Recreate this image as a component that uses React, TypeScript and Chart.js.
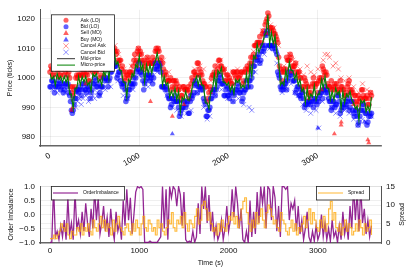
import React, { useEffect, useRef } from "react";
import { Chart, registerables } from "chart.js";

Chart.register(...registerables);

const FONT = "'Liberation Sans', Arial, Helvetica, sans-serif";

// ---------- data ----------
const STEP_S = 20; // seconds between samples of the sampled series
const HALF_STEP_S = 10; // offset of the second order book level samples

const xTickValues = [0, 1000, 2000, 3000];
const priceTickValues = [980, 990, 1000, 1010, 1020];
const imbalanceTickValues = [-1, -0.5, 0, 0.5, 1];
const imbalanceTickLabels = ["−1.0", "−0.5", "0.0", "0.5", "1.0"];
const spreadTickValues = [0, 5, 10, 15];

const topLegendLabels = ["Ask (LO)", "Bid (LO)", "Sell (MO)", "Buy (MO)", "Cancel Ask", "Cancel Bid", "Mid-price", "Micro-price"];

const askLO = [
  1002, 1003, 1001, 1005, 1002, 1003, 1001, 1004, 1001, 1004,
  1001, 1000, 995, 994, 997, 1001, 1001, 1001, 1001, 1002,
  1001, 1001, 999, 1003, 1002, 1004, 1002, 1004, 1000, 1003,
  1003, 1006, 1005, 1004, 1006, 1010, 1010, 1008, 1006, 1006,
  1003, 1002, 999, 1001, 1000, 1002, 1002, 1006, 1005, 1009,
  1008, 1008, 1005, 1003, 1005, 1006, 1005, 1005, 1005, 1009,
  1009, 1009, 1005, 1005, 1001, 1001, 999, 999, 996, 999,
  997, 998, 996, 993, 994, 997, 996, 996, 993, 998,
  999, 1002, 1001, 1005, 1001, 1001, 998, 997, 992, 995,
  996, 1001, 1002, 1001, 1003, 1006, 1004, 1002, 999, 1001,
  999, 999, 998, 1002, 1000, 1002, 1000, 1002, 998, 1002,
  1002, 1003, 1005, 1005, 1008, 1011, 1012, 1012, 1011, 1015,
  1015, 1019, 1022, 1017, 1016, 1016, 1015, 1013, 1007, 1003,
  999, 1003, 1003, 1006, 1006, 1007, 1003, 1004, 1002, 1002,
  1000, 997, 997, 999, 997, 995, 995, 998, 998, 998,
  995, 1000, 1000, 1003, 1001, 1001, 997, 997, 996, 997,
  997, 996, 996, 997, 996, 994, 995, 998, 996, 996,
  992, 994, 991, 992, 993, 996, 993, 993, 991, 993, 994,
];

// second ask level, sampled half a step later
const askLO2 = [
  1004, 1001, 1005, 1004, 1004, 1001, 1003, 1005, 1002, 1004,
  1002, 997, 997, 996, 1000, 1000, 1001, 1003, 1001, 1003,
  1002, 999, 1003, 1003, 1004, 1002, 1003, 1004, 1001, 1004,
  1006, 1005, 1007, 1005, 1009, 1009, 1009, 1009, 1005, 1006,
  1004, 1000, 1002, 1001, 1002, 1001, 1004, 1008, 1006, 1010,
  1009, 1006, 1006, 1004, 1007, 1005, 1005, 1007, 1006, 1010,
  1010, 1006, 1007, 1003, 1002, 999, 999, 1000, 997, 999,
  999, 996, 997, 994, 997, 996, 996, 997, 995, 1000,
  1002, 1001, 1005, 1003, 1002, 999, 998, 997, 993, 997,
  1000, 1001, 1004, 1002, 1006, 1004, 1003, 1003, 999, 1001,
  1000, 998, 1002, 1001, 1002, 1000, 1001, 1002, 999, 1003,
  1004, 1003, 1007, 1007, 1011, 1011, 1012, 1014, 1012, 1016,
  1018, 1020, 1021, 1017, 1017, 1015, 1014, 1012, 1004, 1002,
  1002, 1002, 1007, 1006, 1008, 1004, 1004, 1005, 1001, 1002,
  1000, 996, 1000, 998, 997, 994, 997, 1000, 997, 998,
  999, 999, 1004, 1002, 1002, 998, 997, 999, 996, 998,
  998, 995, 999, 997, 996, 994, 997, 999, 995, 995,
  994, 992, 994, 993, 996, 994, 993, 994, 991, 995,
];

const bidLO = [
  997, 999, 998, 997, 998, 999, 996, 998, 996, 998,
  998, 994, 989, 989, 993, 996, 995, 997, 996, 998,
  996, 997, 996, 995, 998, 1000, 997, 998, 995, 997,
  1000, 1000, 999, 999, 1002, 1005, 1004, 1004, 1001, 1002,
  998, 998, 996, 993, 996, 998, 997, 1000, 1000, 1003,
  1005, 1002, 999, 998, 1001, 1001, 999, 1001, 1000, 1005,
  1004, 1005, 1002, 997, 997, 997, 994, 993, 991, 993,
  994, 992, 990, 988, 990, 992, 990, 992, 988, 994,
  994, 998, 998, 997, 997, 997, 993, 991, 987, 989,
  993, 995, 996, 996, 999, 1001, 998, 998, 994, 997,
  994, 995, 995, 994, 996, 998, 995, 996, 993, 996,
  999, 997, 999, 1000, 1004, 1006, 1006, 1008, 1006, 1011,
  1010, 1015, 1015, 1011, 1011, 1011, 1010, 1008, 1001, 997,
  997, 997, 998, 999, 1002, 1002, 999, 999, 996, 997,
  994, 995, 993, 991, 992, 992, 991, 993, 992, 992,
  993, 994, 995, 996, 997, 996, 993, 992, 990, 992,
  991, 994, 992, 989, 991, 991, 991, 993, 990, 992,
  988, 989, 987, 985, 989, 991, 989, 988, 985, 988, 988,
];

// second bid level, sampled half a step later
const bidLO2 = [
  997, 999, 995, 997, 997, 998, 997, 995, 998, 997,
  995, 992, 988, 991, 993, 996, 996, 994, 998, 996,
  995, 997, 993, 996, 998, 999, 997, 994, 997, 997,
  999, 1000, 997, 1000, 1002, 1005, 1004, 1000, 1002, 999,
  997, 998, 992, 994, 996, 998, 998, 998, 1002, 1003,
  1002, 1001, 996, 999, 1000, 1001, 1000, 998, 1003, 1003,
  1003, 1004, 997, 997, 996, 996, 993, 990, 993, 992,
  992, 992, 987, 989, 990, 992, 991, 988, 992, 993,
  995, 999, 995, 997, 996, 996, 992, 987, 989, 990,
  993, 996, 994, 997, 999, 1000, 998, 994, 996, 994,
  993, 996, 992, 995, 996, 997, 995, 992, 995, 996,
  997, 999, 997, 1002, 1004, 1007, 1007, 1005, 1009, 1009,
  1011, 1016, 1011, 1011, 1010, 1011, 1009, 1002, 1000, 996,
  996, 998, 996, 1000, 1001, 1001, 999, 995, 997, 994,
  993, 995, 990, 991, 991, 992, 992, 990, 993, 991,
  992, 995, 993, 996, 995, 995, 992, 989, 992, 990,
  991, 994, 988, 990, 990, 992, 992, 989, 992, 989,
  987, 989, 984, 987, 989, 991, 988, 984, 987, 987,
];

const midPrice = [
  1000, 1000, 1000, 1001, 1000, 1000, 999, 1000, 1000, 1001,
  999, 996, 992, 993, 995, 997, 998, 999, 1000, 999,
  999, 998, 998, 999, 1000, 1001, 1000, 1000, 999, 1000,
  1001, 1002, 1002, 1003, 1004, 1006, 1007, 1006, 1005, 1003,
  1001, 999, 998, 997, 998, 999, 1000, 1002, 1004, 1006,
  1006, 1004, 1002, 1002, 1003, 1002, 1002, 1003, 1004, 1006,
  1007, 1006, 1004, 1001, 999, 998, 997, 995, 995, 996,
  995, 994, 993, 992, 992, 993, 993, 994, 992, 995,
  997, 999, 1000, 1001, 999, 998, 996, 993, 991, 992,
  994, 997, 999, 1000, 1001, 1002, 1001, 1000, 998, 998,
  997, 996, 997, 998, 998, 999, 998, 998, 997, 999,
  1000, 999, 1002, 1004, 1006, 1007, 1009, 1010, 1010, 1012,
  1013, 1016, 1017, 1015, 1013, 1012, 1013, 1010, 1005, 1000,
  998, 999, 1001, 1003, 1004, 1003, 1002, 1001, 1000, 998,
  997, 996, 995, 995, 994, 993, 994, 995, 996, 995,
  994, 996, 998, 1000, 999, 997, 996, 994, 994, 993,
  994, 995, 994, 993, 993, 992, 994, 995, 994, 993,
  991, 990, 989, 989, 991, 992, 992, 990, 989, 989, 991,
];

const microPrice = [
  1001.5, 999.5, 1000.5, 997.5, 1001.5, 999.5, 1000.5, 998.5, 1000.5, 998.5,
  1000.5, 994.5, 994.5, 989.5, 996.5, 996.5, 1000.5, 997.5, 1000.5, 998.5,
  1000.5, 997.5, 998.5, 995.5, 1001.5, 1000.5, 1001.5, 998.5, 999.5, 997.5,
  1002.5, 1000.5, 1004.5, 999.5, 1005.5, 1005.5, 1009.5, 1004.5, 1005.5, 1002.5,
  1002.5, 998.5, 998.5, 993.5, 999.5, 998.5, 1001.5, 1000.5, 1004.5, 1003.5,
  1007.5, 1002.5, 1004.5, 998.5, 1004.5, 1001.5, 1004.5, 1001.5, 1004.5, 1005.5,
  1008.5, 1005.5, 1004.5, 997.5, 1000.5, 997.5, 998.5, 993.5, 995.5, 993.5,
  996.5, 992.5, 995.5, 988.5, 993.5, 992.5, 995.5, 992.5, 992.5, 994.5,
  998.5, 998.5, 1000.5, 997.5, 1000.5, 997.5, 997.5, 991.5, 991.5, 989.5,
  995.5, 995.5, 1001.5, 996.5, 1002.5, 1001.5, 1003.5, 998.5, 998.5, 997.5,
  998.5, 995.5, 997.5, 994.5, 999.5, 998.5, 999.5, 996.5, 997.5, 996.5,
  1001.5, 997.5, 1004.5, 1000.5, 1007.5, 1006.5, 1011.5, 1008.5, 1010.5, 1011.5,
  1014.5, 1015.5, 1021.5, 1011.5, 1015.5, 1011.5, 1014.5, 1008.5, 1006.5, 997.5,
  998.5, 997.5, 1002.5, 999.5, 1005.5, 1002.5, 1002.5, 999.5, 1001.5, 997.5,
  999.5, 995.5, 996.5, 991.5, 996.5, 992.5, 994.5, 993.5, 997.5, 992.5,
  994.5, 994.5, 999.5, 996.5, 1000.5, 996.5, 996.5, 992.5, 995.5, 992.5,
  996.5, 994.5, 995.5, 989.5, 995.5, 991.5, 994.5, 993.5, 995.5, 992.5,
  991.5, 989.5, 990.5, 985.5, 992.5, 991.5, 992.5, 988.5, 990.5, 988.5, 993.5,
];

// [time (s), price (ticks)]
const sellMO: [number, number][] = [
  [100, 1000], [240, 989], [255, 990], [400, 998], [600, 1001], [980, 1004], [1000, 1006],
  [1125, 992], [1370, 987], [1500, 991], [1700, 998], [1800, 995], [2300, 1007], [2430, 1015],
  [2520, 1012], [2700, 1002], [2900, 993], [3040, 996], [3100, 997], [3185, 981], [3260, 984],
  [3262, 985], [3400, 991], [3560, 979], [3570, 978],
];

const buyMO: [number, number][] = [
  [50, 999], [300, 995], [700, 1004], [850, 996], [1230, 1004], [1370, 981], [1450, 992],
  [1620, 997], [1980, 997], [2000, 996], [2250, 1001], [2420, 1014], [2600, 998], [2640, 999],
  [2800, 996], [3000, 983], [3150, 993], [3330, 990], [3450, 988], [3520, 985],
];

const cancelAsk: [number, number][] = [
  [10, 1003], [60, 1004], [110, 1005], [160, 1003], [200, 1004], [330, 1003], [380, 1004],
  [450, 1002], [520, 1005], [580, 1004], [640, 1007], [700, 1009], [730, 1011], [770, 1008],
  [830, 1003], [910, 1004], [950, 1007], [990, 1010], [1030, 1008], [1090, 1007], [1150, 1006],
  [1190, 1009], [1210, 1010], [1270, 1006], [1330, 1002], [1400, 999], [1480, 996], [1560, 997],
  [1620, 1003], [1680, 1004], [1720, 1003], [1800, 999], [1880, 1005], [1910, 1006], [1960, 1003],
  [2050, 1002], [2100, 1003], [2150, 1002], [2230, 1004], [2280, 1009], [2330, 1012], [2380, 1016],
  [2440, 1020], [2470, 1018], [2510, 1017], [2560, 1011], [2620, 1004], [2680, 1008], [2720, 1006],
  [2760, 1005], [2800, 1003], [2840, 1001], [2880, 1004], [2920, 1002], [2960, 1001], [3000, 1003],
  [3060, 1006], [3080, 1008], [3110, 1008], [3130, 1007], [3170, 1004], [3200, 1005], [3230, 1003],
  [3260, 1000], [3300, 999], [3350, 1000], [3400, 997], [3460, 995], [3500, 998], [3550, 996],
  [3590, 995],
];

const cancelBid: [number, number][] = [
  [30, 996], [80, 995], [130, 997], [170, 995], [270, 991], [290, 990], [310, 992], [330, 993],
  [350, 991], [370, 993], [400, 994], [430, 992], [460, 993], [480, 994], [500, 993], [530, 995],
  [560, 994], [620, 996], [680, 997], [760, 999], [820, 994], [870, 993], [930, 996], [1000, 1001],
  [1060, 998], [1100, 997], [1140, 999], [1200, 1002], [1260, 997], [1310, 994], [1370, 990],
  [1420, 989], [1470, 987], [1530, 988], [1580, 989], [1650, 995], [1720, 990], [1760, 986],
  [1790, 987], [1850, 994], [1920, 996], [1990, 993], [2050, 992], [2110, 993], [2170, 991],
  [2230, 990], [2260, 989], [2300, 1002], [2350, 1005], [2400, 1008], [2460, 1010], [2540, 1005],
  [2600, 995], [2650, 996], [2700, 998], [2740, 995], [2780, 994], [2830, 991], [2870, 989],
  [2920, 988], [2980, 989], [3010, 983], [3050, 992], [3100, 993], [3150, 990], [3200, 988],
  [3250, 987], [3300, 989], [3350, 988], [3400, 986], [3450, 984], [3500, 986], [3540, 985],
  [3600, 987],
];

const orderImbalance = [
  -1, -1, 1, -0.8, -0.6, -0.9, -0.4, -0.8, -0.2, -0.9,
  0.6, -0.7, -0.3, -0.9, 0.8, -0.5, -0.2, -0.7, 0.1, -0.6,
  0.4, -0.3, -0.8, 0.2, -0.5, 0.9, -0.2, 0.6, -0.7, -0.3,
  0.3, -0.6, -0.1, -0.8, 0.2, -0.5, -0.9, 0.1, -0.6, -0.3,
  -0.9, 0.5, -0.4, 0.9, -0.2, 0.6, -0.7, 0, 0.8, 1,
  0.95, 1, 0.9, -1, -1, -1, -0.95, -1, -1, -1,
  -1, -0.9, -0.8, 1, -0.5, 0.9, -0.9, 1, 0.6, 1,
  0.9, 0.3, 1, 0.7, -0.4, 0.8, -0.9, -1, -0.95, -1,
  -0.6, -1, -0.8, 0.4, -0.7, 1, 0.2, 1, -0.3, 0.7,
  -0.6, 0.1, -0.8, -0.4, -0.9, -0.7, -0.2, -0.9, -0.5, 0.3,
  -0.6, -0.2, 0.9, -0.1, 1, 0.4, -0.5, 0.2, -0.9, -1,
  -0.6, -1, 0.5, -0.8, 0.1, -0.7, 0.8, -0.3, 1, 0.4,
  1, -0.5, 1, 0.9, -0.2, 1, 0.6, -0.6, 0.3, -0.8,
  1, 1, 0.9, 1, -0.2, 0.4, 0.2, 0.5, -0.6, 0.3,
  -0.7, -0.2, -0.9, -0.5, 0.1, -0.8, -1, -0.6, -0.95, -0.4,
  -0.9, -0.7, 0, -0.8, -0.3, -0.9, -0.5, -0.95, -0.2, -0.8,
  -0.6, -1, -0.4, -0.9, 0.1, -0.7, -0.3, -0.9, 0.3, -0.5,
  1, -0.2, 0.8, -0.6, 1, -0.3, 0.2, -0.7, -0.2, -0.8, -0.4,
];

const spread = [
  1, 1, 2, 1, 2, 3, 5, 4, 3, 5, 2,
  1, 3, 2, 2, 4, 3, 5, 2, 4, 3,
  5, 3, 2, 6, 4, 3, 5, 7, 4, 6,
  3, 5, 4, 2, 6, 3, 5, 7, 4, 3,
  2, 4, 5, 3, 2, 5, 3, 6, 4, 2,
  5, 7, 4, 3, 6, 5, 3, 4, 2, 6,
  4, 5, 3, 2, 4, 6, 5, 8, 4, 3,
  6, 5, 7, 4, 8, 5, 3, 6, 5, 4,
  7, 9, 5, 6, 10, 11, 9, 6, 8, 5,
  3, 4, 2, 5, 3, 6, 4, 3, 5, 7,
  6, 8, 5, 7, 4, 6, 9, 11, 12, 8,
  5, 3, 6, 4, 8, 5, 7, 9, 6, 4,
  8, 10, 9, 7, 5, 6, 4, 3, 8, 6,
  5, 3, 2, 4, 6, 3, 5, 2, 4, 3,
  5, 7, 4, 6, 9, 5, 8, 6, 4, 3,
  6, 4, 7, 3, 5, 9, 11, 6, 8, 4,
  3, 5, 2, 4, 6, 3, 5, 4, 2, 3,
  5, 3, 6, 4, 2, 5, 3, 4, 6, 2,
];

// ---------- styles ----------
const RED_FILL = "rgba(255,0,0,0.62)";
const BLUE_FILL = "rgba(0,0,255,0.62)";
const RED_X = "rgba(255,0,0,0.55)";
const BLUE_X = "rgba(0,0,255,0.55)";
const GREEN = "rgb(0,128,0)";
const PURPLE = "rgba(128,0,128,0.85)";
const ORANGE = "rgba(255,165,0,0.75)";
const GRID = "rgba(0,0,0,0.09)";

const sampled = (arr: number[], offset = 0) => arr.map((y, i) => ({ x: offset + i * STEP_S, y }));
const pairs = (arr: [number, number][]) => arr.map(([x, y]) => ({ x, y }));

const X_MIN = -112;
const X_MAX = 3707;

function drawMarker(ctx: CanvasRenderingContext2D, kind: string, x: number, y: number, color: string) {
  ctx.save();
  if (kind === "circle") {
    ctx.fillStyle = color;
    ctx.beginPath();
    ctx.arc(x, y, 2.5, 0, Math.PI * 2);
    ctx.fill();
  } else if (kind === "triangle") {
    ctx.fillStyle = color;
    ctx.beginPath();
    ctx.moveTo(x, y - 3);
    ctx.lineTo(x + 2.8, y + 2);
    ctx.lineTo(x - 2.8, y + 2);
    ctx.closePath();
    ctx.fill();
  } else if (kind === "x") {
    ctx.strokeStyle = color;
    ctx.lineWidth = 0.8;
    ctx.beginPath();
    ctx.moveTo(x - 2.6, y - 2.6);
    ctx.lineTo(x + 2.6, y + 2.6);
    ctx.moveTo(x + 2.6, y - 2.6);
    ctx.lineTo(x - 2.6, y + 2.6);
    ctx.stroke();
  } else {
    ctx.strokeStyle = color;
    ctx.lineWidth = 1;
    ctx.beginPath();
    ctx.moveTo(x - 9, y);
    ctx.lineTo(x + 9, y);
    ctx.stroke();
  }
  ctx.restore();
}

const topLegendPlugin = {
  id: "topLegendBox",
  afterDraw(chart: any) {
    const ctx: CanvasRenderingContext2D = chart.ctx;
    const ca = chart.chartArea;
    const left = ca.left + 11;
    const top = ca.top + 4.5;
    const w = 63;
    const h = 56.5;
    const kinds = ["circle", "circle", "triangle", "triangle", "x", "x", "line", "line"];
    const colors = [RED_FILL, BLUE_FILL, RED_FILL, BLUE_FILL, RED_X, BLUE_X, "#333", GREEN];
    ctx.save();
    ctx.fillStyle = "#fff";
    ctx.fillRect(left, top, w, h);
    ctx.strokeStyle = "#222";
    ctx.lineWidth = 0.8;
    ctx.strokeRect(left + 0.5, top + 0.5, w, h);
    ctx.font = `5px ${FONT}`;
    ctx.textBaseline = "middle";
    ctx.textAlign = "left";
    topLegendLabels.forEach((label, i) => {
      const y = top + 6 + i * 6.4;
      drawMarker(ctx, kinds[i], left + 15, y, colors[i]);
      ctx.fillStyle = "#111";
      ctx.fillText(label, left + 29.5, y);
    });
    ctx.restore();
  },
};

const bottomLegendPlugin = {
  id: "bottomLegendBoxes",
  afterDraw(chart: any) {
    const ctx: CanvasRenderingContext2D = chart.ctx;
    const ca = chart.chartArea;
    const top = ca.top;
    const boxes = [
      { left: 51, w: 73, label: chart.data.datasets[0].label, color: "rgb(128,0,128)" },
      { left: 316, w: 53, label: chart.data.datasets[1].label, color: "rgba(255,165,0,0.8)" },
    ];
    ctx.save();
    ctx.font = `5px ${FONT}`;
    ctx.textBaseline = "middle";
    boxes.forEach((b) => {
      ctx.fillStyle = "#fff";
      ctx.fillRect(b.left, top, b.w, 13.5);
      ctx.strokeStyle = "#222";
      ctx.lineWidth = 0.8;
      ctx.strokeRect(b.left + 0.5, top + 0.5, b.w, 13.5);
      const y = top + 7;
      ctx.strokeStyle = b.color;
      ctx.lineWidth = 1;
      ctx.beginPath();
      ctx.moveTo(b.left + 2, y);
      ctx.lineTo(b.left + 27, y);
      ctx.stroke();
      ctx.fillStyle = "#111";
      ctx.fillText(b.label, b.left + 32, y);
    });
    // right axis title
    ctx.translate(402, (ca.top + ca.bottom) / 2);
    ctx.rotate(-Math.PI / 2);
    ctx.font = `7px ${FONT}`;
    ctx.textAlign = "center";
    ctx.fillStyle = "#111";
    ctx.fillText("Spread", 0, 0);
    ctx.restore();
  },
};

export default function App() {
  const topRef = useRef<HTMLCanvasElement>(null);
  const botRef = useRef<HTMLCanvasElement>(null);

  useEffect(() => {
    Chart.defaults.font.family = FONT;
    const tickFont = { family: FONT, size: 8 };
    const titleFont = { family: FONT, size: 7 };

    const askPoints = [...sampled(askLO), ...sampled(askLO2, HALF_STEP_S)];
    const bidPoints = [...sampled(bidLO), ...sampled(bidLO2, HALF_STEP_S)];

    const top = new Chart(topRef.current as HTMLCanvasElement, {
      type: "scatter",
      data: {
        datasets: [
          { label: topLegendLabels[0], data: askPoints, pointStyle: "circle", pointRadius: 2.8, backgroundColor: RED_FILL, borderWidth: 0, order: 8 },
          { label: topLegendLabels[1], data: bidPoints, pointStyle: "circle", pointRadius: 2.8, backgroundColor: BLUE_FILL, borderWidth: 0, order: 7 },
          { label: topLegendLabels[2], data: pairs(sellMO), pointStyle: "triangle", pointRadius: 2.9, backgroundColor: RED_FILL, borderWidth: 0, order: 6 },
          { label: topLegendLabels[3], data: pairs(buyMO), pointStyle: "triangle", pointRadius: 2.9, backgroundColor: BLUE_FILL, borderWidth: 0, order: 5 },
          { label: topLegendLabels[4], data: pairs(cancelAsk), pointStyle: "crossRot", pointRadius: 3.4, borderColor: RED_X, borderWidth: 0.8, order: 4 },
          { label: topLegendLabels[5], data: pairs(cancelBid), pointStyle: "crossRot", pointRadius: 3.4, borderColor: BLUE_X, borderWidth: 0.8, order: 3 },
          { label: topLegendLabels[6], data: sampled(midPrice), showLine: true, pointRadius: 0, borderColor: "#333", borderWidth: 0.6, order: 2 },
          { label: topLegendLabels[7], data: sampled(microPrice), showLine: true, pointRadius: 0, borderColor: GREEN, borderWidth: 1.1, order: 1 },
        ] as any,
      },
      options: {
        responsive: false,
        animation: false,
        events: [],
        layout: { padding: { top: 8, right: 26, left: 0, bottom: 0 } },
        plugins: { legend: { display: false }, tooltip: { enabled: false } },
        scales: {
          x: {
            type: "linear",
            min: X_MIN,
            max: X_MAX,
            afterBuildTicks: (axis: any) => { axis.ticks = xTickValues.map((v) => ({ value: v })); },
            afterFit: (axis: any) => { axis.height = 30; },
            grid: { color: GRID, lineWidth: 0.7, drawTicks: false },
            border: { color: "#666", width: 1.4 },
            ticks: { font: tickFont, color: "#111", padding: 5, minRotation: 30, maxRotation: 30, autoSkip: false, callback: (v: any) => String(v) },
          },
          y: {
            type: "linear",
            min: 976.9,
            max: 1023.1,
            afterBuildTicks: (axis: any) => { axis.ticks = priceTickValues.map((v) => ({ value: v })); },
            afterFit: (axis: any) => { axis.width = 40; },
            grid: { color: GRID, lineWidth: 0.7, drawTicks: false },
            border: { color: "#555", width: 1 },
            ticks: { font: tickFont, color: "#111", padding: 5, callback: (v: any) => String(v) },
            title: { display: true, text: "Price (ticks)", font: titleFont, color: "#111", padding: { top: 6, bottom: 0 } },
          },
        },
      } as any,
      plugins: [topLegendPlugin],
    });

    const bottom = new Chart(botRef.current as HTMLCanvasElement, {
      type: "line",
      data: {
        datasets: [
          { label: "OrderImbalance", data: sampled(orderImbalance), borderColor: PURPLE, borderWidth: 1.3, pointRadius: 0, yAxisID: "y", order: 2 },
          { label: "Spread", data: sampled(spread), borderColor: ORANGE, borderWidth: 1.2, pointRadius: 0, stepped: true, yAxisID: "y2", order: 1 },
        ] as any,
      },
      options: {
        responsive: false,
        animation: false,
        events: [],
        layout: { padding: { top: 10, right: 0, left: 0, bottom: 0 } },
        plugins: { legend: { display: false }, tooltip: { enabled: false } },
        scales: {
          x: {
            type: "linear",
            min: X_MIN,
            max: X_MAX,
            afterBuildTicks: (axis: any) => { axis.ticks = xTickValues.map((v) => ({ value: v })); },
            afterFit: (axis: any) => { axis.height = 28; },
            grid: { color: GRID, lineWidth: 0.7, drawTicks: false },
            border: { color: "#666", width: 1.6 },
            ticks: { font: tickFont, color: "#111", padding: 3, maxRotation: 0, autoSkip: false, callback: (v: any) => String(v) },
            title: { display: true, text: "Time (s)", font: titleFont, color: "#111", padding: { top: 0, bottom: 4 } },
          },
          y: {
            type: "linear",
            position: "left",
            min: -1.02,
            max: 1.02,
            afterBuildTicks: (axis: any) => { axis.ticks = imbalanceTickValues.map((v) => ({ value: v })); },
            afterFit: (axis: any) => { axis.width = 40; },
            grid: { color: GRID, lineWidth: 0.7, drawTicks: false },
            border: { color: "#555", width: 1 },
            ticks: {
              font: tickFont, color: "#111", padding: 5,
              callback: (v: any) => imbalanceTickLabels[imbalanceTickValues.indexOf(Number(v))] ?? String(v),
            },
            title: { display: true, text: "Order Imbalance", font: titleFont, color: "#111", padding: { top: 7, bottom: 0 } },
          },
          y2: {
            type: "linear",
            position: "right",
            min: -0.15,
            max: 15.15,
            afterBuildTicks: (axis: any) => { axis.ticks = spreadTickValues.map((v) => ({ value: v })); },
            afterFit: (axis: any) => { axis.width = 26; },
            grid: { color: GRID, lineWidth: 0.7, drawTicks: false },
            border: { color: "#555", width: 1 },
            ticks: { font: tickFont, color: "#111", padding: 5, callback: (v: any) => String(v) },
          },
        },
      } as any,
      plugins: [bottomLegendPlugin],
    });

    return () => {
      top.destroy();
      bottom.destroy();
    };
  }, []);

  return (
    <div style={{ position: "absolute", left: 0, top: 0, width: 407, height: 271, background: "#fff" }}>
      <canvas ref={topRef} width={407} height={176} style={{ position: "absolute", left: 0, top: 0, width: 407, height: 176 }} />
      <canvas ref={botRef} width={407} height={95} style={{ position: "absolute", left: 0, top: 176, width: 407, height: 95 }} />
    </div>
  );
}
